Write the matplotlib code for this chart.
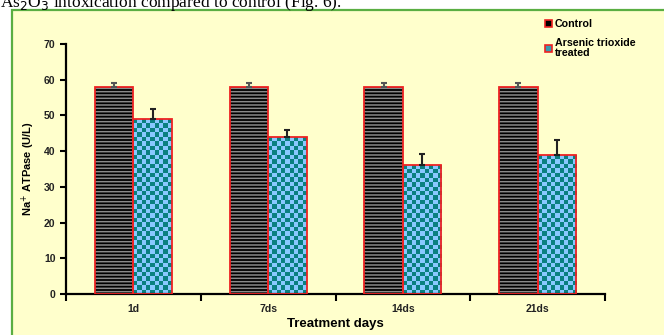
# Na+ ATPase bars: control vs arsenic trioxide treated
import numpy as np
import matplotlib
matplotlib.use("Agg")
import matplotlib.pyplot as plt
from matplotlib.patches import Rectangle, Patch
from matplotlib.colors import ListedColormap

plt.rcParams['font.family'] = ['Liberation Sans', 'DejaVu Sans']
plt.rcParams['hatch.linewidth'] = 1.1

# Data
days = ["1d", "7ds", "14ds", "21ds"]
control = [58, 58, 58, 58]
control_err = [1.2, 1.2, 1.2, 1.2]
treated = [49, 44, 36, 39]
treated_err = [2.7, 2.0, 3.2, 4.0]

fig = plt.figure(figsize=(6.64, 3.35), dpi=100)
fig.patch.set_facecolor('white')

# caption text from the page, cut off at the top
fig.text(0.0, 1.0 - 7 / 335, "As$_2$O$_3$ intoxication compared to control (Fig. 6).",
         family=['Liberation Serif', 'DejaVu Serif'], fontsize=12.5, va='baseline',
         ha='left', color='black')

# yellow panel with green frame
fig.patches.append(Rectangle((12 / 664, -0.05), 1.0, 1 - 10 / 335 + 0.05,
                             transform=fig.transFigure, facecolor='#ffffcc',
                             edgecolor='#5aae42', linewidth=1.6, zorder=0))

ax = fig.add_axes([66 / 664, 41 / 335, 539 / 664, 250 / 335])
ax.set_facecolor('none')
ax.set_zorder(2)

x = np.arange(len(days))
w = 0.285

# control bars: black with grey horizontal stripes, red outline
ax.bar(x - w, control, w, align='edge', color='black', edgecolor='#8a8a8a',
       hatch='-----', linewidth=0, zorder=2)
ax.bar(x - w, control, w, align='edge', fill=False, edgecolor='#ee2222',
       linewidth=1.3, zorder=3)

# treated bars: checkerboard teal / light blue, red outline
trt = ax.bar(x, treated, w, align='edge', color='#88c8ff', linewidth=0, zorder=2)
nx, sq_y = 9, 1.25
for p in trt:
    x0, y0, bw, bh = p.get_x(), p.get_y(), p.get_width(), p.get_height()
    ny = int(np.ceil(bh / sq_y))
    board = (np.add.outer(np.arange(ny), np.arange(nx)) % 2).astype(float)
    im = ax.imshow(board, cmap=ListedColormap(['#0a8080', '#88c8ff']),
                   extent=(x0, x0 + bw, y0, y0 + ny * sq_y), origin='lower',
                   aspect='auto', interpolation='nearest', zorder=2.5)
    im.set_clip_path(p)
ax.bar(x, treated, w, align='edge', fill=False, edgecolor='#ee2222',
       linewidth=1.3, zorder=3)

# error bars, upper side only
ax.errorbar(x - w / 2, control, yerr=[np.zeros(len(control)), control_err],
            fmt='none', ecolor='#555555', elinewidth=1.5, capsize=2.5, capthick=1.5, zorder=4)
ax.errorbar(x + w / 2, treated, yerr=[np.zeros(len(treated)), treated_err],
            fmt='none', ecolor='#222222', elinewidth=1.5, capsize=2.5, capthick=1.5, zorder=4)

ax.set_xlim(-0.5, len(days) - 0.5)
ax.set_ylim(0, 70)
ax.set_yticks(np.arange(0, 71, 10))
ax.set_xticks(np.arange(len(days) + 1) - 0.5)
ax.set_xticklabels([])
ax.set_xticks(x, days, minor=True)
ax.tick_params(axis='x', which='minor', length=0, pad=7)
ax.tick_params(axis='x', which='major', length=5, width=1.5, direction='out')
ax.tick_params(axis='y', length=4, width=1.5, direction='out', pad=3.5)
for lab in ax.get_yticklabels() + ax.get_xticklabels(minor=True):
    lab.set_fontweight('bold')
    lab.set_fontsize(7.5)
    lab.set_color('#222222')

for s in ['top', 'right']:
    ax.spines[s].set_visible(False)
for s in ['left', 'bottom']:
    ax.spines[s].set_linewidth(1.6)

ax.set_ylabel("Na$^{+}$ ATPase (U/L)", fontsize=8, fontweight='bold', labelpad=5)
ax.set_xlabel("Treatment days", fontsize=9.5, fontweight='bold', labelpad=3)

handles = [Patch(facecolor='black', edgecolor='#ee2222', linewidth=1.2),
           Patch(facecolor='#3a9ab0', edgecolor='#ee2222', linewidth=1.2)]
leg = fig.legend(handles, ["Control", "Arsenic trioxide\ntreated"],
                 loc='upper left', bbox_to_anchor=(545 / 664, 1 - 19 / 335),
                 frameon=False, prop={'weight': 'bold', 'size': 7.7},
                 handlelength=0.7, handleheight=0.7, handletextpad=0.2,
                 labelspacing=0.85, borderaxespad=0, borderpad=0)
for t in leg.get_texts():
    t.set_linespacing(1.0)

fig.savefig("out.png", dpi=100)
